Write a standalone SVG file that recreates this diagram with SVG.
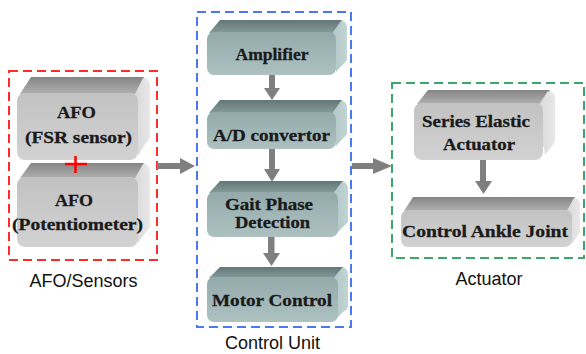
<svg xmlns="http://www.w3.org/2000/svg" width="586" height="354" viewBox="0 0 586 354">
<defs>
<linearGradient id="gFront" x1="0" y1="0" x2="0" y2="1"><stop offset="0" stop-color="#c2c2c2"/><stop offset="1" stop-color="#d2d2d2"/></linearGradient>
<linearGradient id="gTop" x1="0" y1="0" x2="0" y2="1"><stop offset="0" stop-color="#858585"/><stop offset="1" stop-color="#b0b0b0"/></linearGradient>
<linearGradient id="gSide" x1="0" y1="0" x2="1" y2="0"><stop offset="0" stop-color="#d8d8d8"/><stop offset="1" stop-color="#e8e8e8"/></linearGradient>
<linearGradient id="tFront" x1="0" y1="0" x2="0" y2="1"><stop offset="0" stop-color="#94aaaa"/><stop offset="1" stop-color="#adc1c1"/></linearGradient>
<linearGradient id="tTop" x1="0" y1="0" x2="0" y2="1"><stop offset="0" stop-color="#627777"/><stop offset="1" stop-color="#849a9a"/></linearGradient>
<linearGradient id="tSide" x1="0" y1="0" x2="1" y2="0"><stop offset="0" stop-color="#b0c6c6"/><stop offset="1" stop-color="#c2d4d4"/></linearGradient>
</defs>
<style>
.gf{fill:url(#gFront)} .gt{fill:url(#gTop)} .gs{fill:url(#gSide)}
.tf{fill:url(#tFront)} .tt{fill:url(#tTop)} .ts{fill:url(#tSide)}
.bt{font-family:"Liberation Serif","Times New Roman",serif;font-weight:bold;font-size:17px;fill:#1a1a1a;stroke:#1a1a1a;stroke-width:0.3;text-anchor:middle}
.lb{font-family:"Liberation Sans",Arial,sans-serif;font-size:18px;fill:#111;text-anchor:middle}
.dash{fill:none;stroke-width:2;stroke-dasharray:9 5}
.arr{fill:#7f7f7f}
</style>
<rect width="586" height="354" fill="#ffffff"/>

<g id="groups">
<rect class="dash" x="9" y="71" width="148" height="189" stroke="#ff2a2a"/>
<rect class="dash" x="197" y="12" width="154" height="315" stroke="#4a78f0"/>
<rect class="dash" x="392" y="83" width="192" height="175" stroke="#3aa86b"/>
<text class="lb" x="83.5" y="287">AFO/Sensors</text>
<text class="lb" x="272.5" y="349">Control Unit</text>
<text class="lb" x="489" y="285">Actuator</text>
</g>

<g id="afo-fsr">
<rect class="gs" x="29" y="77" width="121" height="67" rx="8"/>
<polygon class="gt" points="20,94 31,77 144,77 136,94"/>
<polygon class="gs" points="134,96 143,78 150,86 150,136 138,156"/>
<rect class="gf" x="17" y="93" width="121" height="67" rx="8"/>
<text class="bt" x="76.5" y="118" textLength="39" lengthAdjust="spacingAndGlyphs">AFO</text>
<text class="bt" x="78.5" y="143" textLength="107" lengthAdjust="spacingAndGlyphs">(FSR sensor)</text>
</g>

<g id="afo-pot">
<rect class="gs" x="29" y="163" width="121" height="70" rx="8"/>
<polygon class="gt" points="20,178 31,163 144,163 136,178"/>
<polygon class="gs" points="134,180 143,164 150,172 150,226 138,243"/>
<rect class="gf" x="17" y="177" width="121" height="70" rx="8"/>
<text class="bt" x="74" y="206" textLength="38" lengthAdjust="spacingAndGlyphs">AFO</text>
<text class="bt" x="77.5" y="230" textLength="131" lengthAdjust="spacingAndGlyphs">(Potentiometer)</text>
</g>

<g id="plus">
<line x1="65" y1="164" x2="87" y2="164" stroke="#ff0000" stroke-width="2.5"/>
<line x1="75.5" y1="156" x2="75.5" y2="173" stroke="#ff0000" stroke-width="2.5"/>
</g>

<g id="amplifier">
<rect class="ts" x="218" y="20" width="129" height="44" rx="7"/>
<polygon class="tt" points="209,33 220,20 342,20 333,33"/>
<polygon class="ts" points="331,35 341,21 347,27 347,60 336,72"/>
<rect class="tf" x="207" y="32" width="129" height="43" rx="7"/>
<text class="bt" x="272" y="60" textLength="73" lengthAdjust="spacingAndGlyphs">Amplifier</text>
</g>

<g id="ad">
<rect class="ts" x="218" y="100" width="129" height="38" rx="7"/>
<polygon class="tt" points="209,113 220,100 342,100 333,113"/>
<polygon class="ts" points="331,115 341,101 347,107 347,134 336,146"/>
<rect class="tf" x="207" y="112" width="129" height="37" rx="7"/>
<text class="bt" x="271.5" y="141" textLength="117" lengthAdjust="spacingAndGlyphs">A/D convertor</text>
</g>

<g id="gait">
<rect class="ts" x="218" y="181" width="130" height="45" rx="7"/>
<polygon class="tt" points="209,193 220,181 343,181 334,193"/>
<polygon class="ts" points="332,195 342,182 348,188 348,222 337,233"/>
<rect class="tf" x="207" y="192" width="131" height="45" rx="7"/>
<text class="bt" x="269" y="210" textLength="88" lengthAdjust="spacingAndGlyphs">Gait Phase</text>
<text class="bt" x="272.5" y="228" textLength="75" lengthAdjust="spacingAndGlyphs">Detection</text>
</g>

<g id="motor">
<rect class="ts" x="218" y="267" width="130" height="45" rx="7"/>
<polygon class="tt" points="209,278 220,267 343,267 334,278"/>
<polygon class="ts" points="332,280 342,268 348,274 348,307 337,318"/>
<rect class="tf" x="207" y="277" width="131" height="45" rx="7"/>
<text class="bt" x="272" y="306" textLength="120" lengthAdjust="spacingAndGlyphs">Motor Control</text>
</g>

<g id="sea">
<rect class="gs" x="426" y="90" width="129" height="57" rx="8"/>
<polygon class="gt" points="417,104 428,90 550,90 540,104"/>
<polygon class="gs" points="538,106 548,91 555,98 555,142 545,155"/>
<rect class="gf" x="414" y="103" width="129" height="57" rx="8"/>
<text class="bt" x="476" y="127" textLength="108" lengthAdjust="spacingAndGlyphs">Series Elastic</text>
<text class="bt" x="479" y="150" textLength="72" lengthAdjust="spacingAndGlyphs">Actuator</text>
</g>

<g id="ankle">
<rect class="gs" x="410" y="197" width="170" height="37" rx="7"/>
<polygon class="gt" points="404,211 413,197 575,197 567,211"/>
<polygon class="gs" points="566,213 574,198 580,204 580,232 572,244"/>
<rect class="gf" x="401" y="210" width="171" height="37" rx="7"/>
<text class="bt" x="485" y="237" textLength="166" lengthAdjust="spacingAndGlyphs">Control Ankle Joint</text>
</g>

<g id="connectors">
<polygon class="arr" points="157,163 180,163 180,158 195,166 180,174 180,169 157,169"/>
<polygon class="arr" points="352,163 373,163 373,158 392,166 373,174 373,169 352,169"/>
<polygon class="arr" points="269,75 275,75 275,88 280,88 272,100 264,88 269,88"/>
<polygon class="arr" points="269,149 275,149 275,169 280,169 272,182 264,169 269,169"/>
<polygon class="arr" points="268,237 274.5,237 274.5,253 280,253 271.5,266 263,253 268,253"/>
<polygon class="arr" points="480,160 486,160 486,181 492,181 483.5,194 475,181 480,181"/>
</g>
</svg>
